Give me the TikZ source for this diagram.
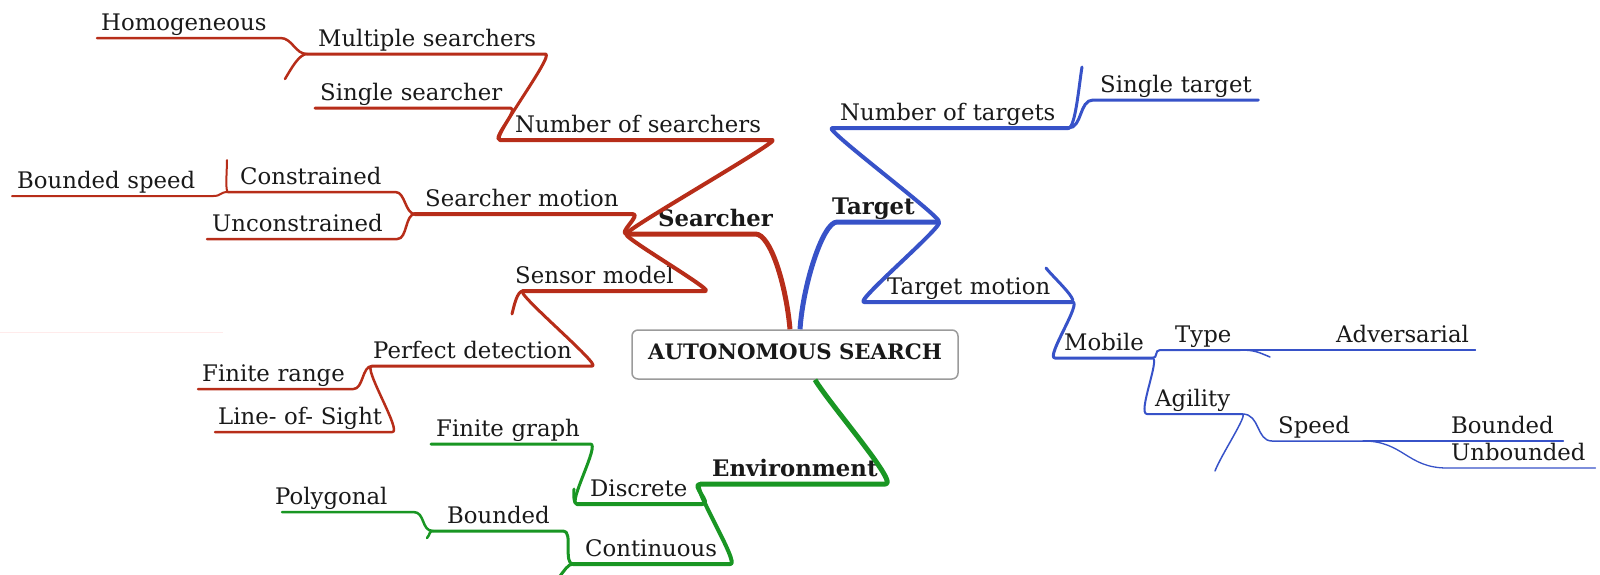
\documentclass[tikz,border=0pt]{standalone}
\usepackage{fontspec}
\setmainfont{DejaVu Serif}
\usetikzlibrary{calc}
\definecolor{mred}{RGB}{183,45,25}
\definecolor{mblue}{RGB}{55,82,200}
\definecolor{mgreen}{RGB}{25,150,35}
\definecolor{boxgray}{RGB}{155,155,155}
\definecolor{txt}{RGB}{25,25,25}
\newcommand\tx[2]{\hspace*{#1pt}\mbox{#2}}
\begin{document}
\begin{tikzpicture}[x=1pt,y=-1pt,
  it/.style={anchor=south west, inner sep=0pt, text height=17pt, text depth=7.5pt,
    align=left, font=\fontsize{22.8}{27}\selectfont, text=txt},
  bd/.style={font=\fontsize{22.8}{27}\selectfont\bfseries},
  ln/.style={line cap=round, line join=round},
  wA/.style={ln, line width=5pt},
  wB/.style={ln, line width=4pt},
  wC/.style={ln, line width=3pt},
  wD/.style={ln, line width=2.5pt},
  wE/.style={ln, line width=2pt},
  wF/.style={ln, line width=1.5pt},
  wG/.style={ln, line width=1.3pt},
  rootbox/.style={draw=boxgray, line width=1.5pt, rounded corners=6pt, fill=white,
    minimum width=326pt, minimum height=49pt, inner sep=0pt, text height=17pt, text depth=8pt,
    font=\fontsize{21.3}{26}\selectfont\bfseries, text=txt}]
\useasboundingbox (0,0) rectangle (1600,574);

% ---------- nodes ----------
\node[rootbox] (center) at (795,354.5) {AUTONOMOUS SEARCH};

% searcher side
\node[it,bd,text width=128pt] (srch) at (627,234) {\tx{31}{Searcher}};
\node[it,text width=272pt] (nsr) at (500,140) {\tx{15}{Number of searchers}};
\node[it,text width=238pt] (mul) at (307,54) {\tx{11}{Multiple searchers}};
\node[it,text width=195pt] (sgl) at (315,108) {\tx{5}{Single searcher}};
\node[it,text width=183pt] (hom) at (97,38) {\tx{4}{Homogeneous}};
\node[it,text width=217pt] (smo) at (415,214) {\tx{10}{Searcher motion}};
\node[it,text width=167pt] (con) at (228,192) {\tx{12}{Constrained}};
\node[it,text width=190pt] (unc) at (207,239) {\tx{5}{Unconstrained}};
\node[it,text width=201pt] (bsp) at (12,196) {\tx{5}{Bounded speed}};
\node[it,text width=182pt] (sen) at (523,291) {\tx{-8}{Sensor model}};
\node[it,text width=220pt] (prf) at (372,366) {\tx{1}{Perfect detection}};
\node[it,text width=155pt] (frg) at (198,389) {\tx{4}{Finite range}};
\node[it,text width=177pt] (los) at (215,432) {\tx{3}{Line- of- Sight}};

% environment side
\node[it,bd,text width=185pt] (env) at (700,484) {\tx{12}{Environment}};
\node[it,text width=125pt] (dsc) at (577,504) {\tx{13}{Discrete}};
\node[it,text width=157pt] (cnt) at (573,564) {\tx{12}{Continuous}};
\node[it,text width=159pt] (fgr) at (431,444) {\tx{5}{Finite graph}};
\node[it,text width=130pt] (bnd) at (433,531) {\tx{14}{Bounded}};
\node[it,text width=131pt] (pol) at (282,512) {\tx{-7}{Polygonal}};

% target side
\node[it,bd,text width=101pt] (tgt) at (837,222) {\tx{-5}{Target}};
\node[it,text width=236pt] (ntg) at (832,128) {\tx{8}{Number of targets}};
\node[it,text width=165pt] (stg) at (1093,100) {\tx{7}{Single target}};
\node[it,text width=208pt] (tmo) at (864,302) {\tx{23}{Target motion}};
\node[it,text width=97pt] (mob) at (1055,358) {\tx{9}{Mobile}};
\node[it,text width=80pt] (typ) at (1160,350) {\tx{15}{Type}};
\node[it,text width=235pt] (adv) at (1240,350) {\tx{96}{Adversarial}};
\node[it,text width=95pt] (agi) at (1147,414) {\tx{8}{Agility}};
\node[it,text width=91pt] (spd) at (1272,441) {\tx{6}{Speed}};
\node[it,text width=200pt] (bdd) at (1363,441) {\tx{88}{Bounded}};
\node[it,text width=148pt] (ubd) at (1447,468) {\tx{4}{Unbounded}};

% stub end points
\coordinate (mulstub) at (285,79);
\coordinate (constub) at (227,160);
\coordinate (senstub) at (512,314);
\coordinate (dscstub) at (574,489);
\coordinate (cntstub) at (560,576);
\coordinate (bndstub) at (427,538);
\coordinate (ntgstub) at (1082,67);
\coordinate (tmostub) at (1046,268);
\coordinate (typstub) at (1270,357);
\coordinate (agistub) at (1215,471);
\coordinate (faintL) at (0,332);
\coordinate (faintR) at (223,332);

% ---------- searcher branch (red) ----------
\begin{scope}[mred]
\draw[wA, line cap=butt] (srch.south west) -- (srch.south east)
  .. controls +(15,0) and +(-4,-45) .. ([xshift=-5pt]center.north);
\draw[wB] (nsr.south west) -- (nsr.south east) .. controls +(10,0) and +(-10,0) .. (srch.south west);
\draw[wC] (mul.south west) -- (mul.south east) .. controls +(10,0) and +(-10,0) .. (nsr.south west);
\draw[wC] (sgl.south west) -- (sgl.south east) .. controls +(10,0) and +(-10,0) .. (nsr.south west);
\draw[wD] (hom.south west) -- (hom.south east) .. controls +(12,0) and +(-12,0) .. (mul.south west);
\draw[wD] (mul.south west) .. controls +(-8,0) and +(6,-10) .. (mulstub);
\draw[wB] (smo.south west) -- (smo.south east) .. controls +(10,0) and +(-10,0) .. (srch.south west);
\draw[wD] (con.south west) -- (con.south east) .. controls +(10,0) and +(-10,0) .. (smo.south west);
\draw[wD] (unc.south west) -- (unc.south east) .. controls +(10,0) and +(-10,0) .. (smo.south west);
\draw[wE] (bsp.south west) -- (bsp.south east) .. controls +(8,0) and +(-8,0) .. (con.south west);
\draw[wE] (con.south west) .. controls +(-3,0) and +(0,10) .. (constub);
\draw[wB] (sen.south west) -- (sen.south east) .. controls +(10,0) and +(-10,0) .. (srch.south west);
\draw[wC] (prf.south west) -- (prf.south east) .. controls +(10,0) and +(-10,0) .. (sen.south west);
\draw[wC] (sen.south west) .. controls +(-6,0) and +(2,-8) .. (senstub);
\draw[wD] (frg.south west) -- (frg.south east) .. controls +(10,0) and +(-10,0) .. (prf.south west);
\draw[wD] (los.south west) -- (los.south east) .. controls +(10,0) and +(-10,0) .. (prf.south west);
\draw[red!8, line width=0.8pt] (faintL) -- (faintR);
\end{scope}

% ---------- environment branch (green) ----------
\begin{scope}[mgreen]
\draw[wA, line cap=butt] (env.south west) -- (env.south east)
  .. controls +(14,0) and +(15,25) .. ([xshift=20pt]center.south);
\draw[wB] (dsc.south west) -- (dsc.south east) .. controls +(10,0) and +(-10,0) .. (env.south west);
\draw[wB] (cnt.south west) -- (cnt.south east) .. controls +(10,0) and +(-10,0) .. (env.south west);
\draw[wC] (fgr.south west) -- (fgr.south east) .. controls +(10,0) and +(-10,0) .. (dsc.south west);
\draw[wC] (dsc.south west) .. controls +(-4,0) and +(0,6) .. (dscstub);
\draw[wC] (bnd.south west) -- (bnd.south east) .. controls +(10,0) and +(-10,0) .. (cnt.south west);
\draw[wC] (cnt.south west) .. controls +(-5,0) and +(4,-5) .. (cntstub);
\draw[wD] (pol.south west) -- (pol.south east) .. controls +(12,0) and +(-12,0) .. (bnd.south west);
\draw[wD] (bnd.south west) .. controls +(-4,0) and +(3,-3) .. (bndstub);
\end{scope}

% ---------- target branch (blue) ----------
\begin{scope}[mblue]
\draw[wA, line cap=butt] ([xshift=5pt]center.north) .. controls +(3,-45) and +(-14,0) .. (tgt.south west)
  -- (tgt.south east);
\draw[wB] (ntg.south east) -- (ntg.south west) .. controls +(-10,0) and +(10,0) .. (tgt.south east);
\draw[wC] (ntg.south east) .. controls +(14,0) and +(-14,0) .. (stg.south west) -- (stg.south east);
\draw[wC] (ntg.south east) .. controls +(7,0) and +(-3,18) .. (ntgstub);
\draw[wB] (tmo.south east) -- (tmo.south west) .. controls +(-10,0) and +(10,0) .. (tgt.south east);
\draw[wC] (tmo.south east) .. controls +(4,-4) and +(6,8) .. (tmostub);
\draw[wC] (tmo.south east) .. controls +(10,0) and +(-10,0) .. (mob.south west) -- (mob.south east);
\draw[wE] (mob.south east) .. controls +(6,0) and +(-6,0) .. (typ.south west) -- (typ.south east);
\draw[wF] (typ.south east) .. controls +(14,0) and +(-12,-5) .. (typstub);
\draw[wF] (typ.south east) -- (adv.south west) -- (adv.south east);
\draw[wE] (mob.south east) .. controls +(8,0) and +(-10,0) .. (agi.south west) -- (agi.south east);
\draw[wF] (agi.south east) .. controls +(6,0) and +(6,-16) .. (agistub);
\draw[wF] (agi.south east) .. controls +(18,0) and +(-16,0) .. (spd.south west) -- (spd.south east);
\draw[wG] (spd.south east) -- (bdd.south west) -- (bdd.south east);
\draw[wG] (spd.south east) .. controls +(40,0) and +(-40,0) .. (ubd.south west) -- (ubd.south east);
\end{scope}
\end{tikzpicture}
\end{document}
